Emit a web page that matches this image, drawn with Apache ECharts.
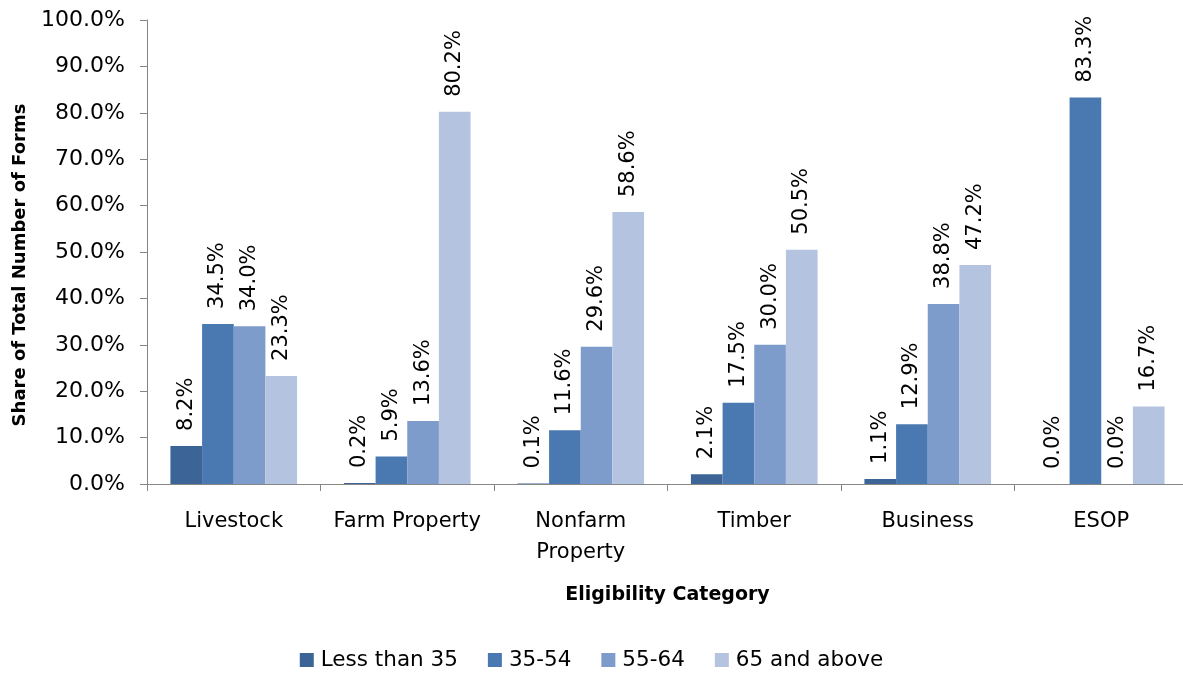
<!DOCTYPE html>
<html>
<head>
<meta charset="utf-8">
<script src="https://cdn.jsdelivr.net/npm/echarts@6/dist/echarts.min.js"></script>
<style>
  html, body { margin: 0; padding: 0; background: #fff; }
  #chart { width: 1183px; height: 679px; }
</style>
</head>
<body>
<div id="chart"></div>
<script>
const categories = ['Livestock', 'Farm Property', 'Nonfarm\nProperty', 'Timber', 'Business', 'ESOP']
const seriesNames = ['Less than 35', '35-54', '55-64', '65 and above']
const lessThan35 = [8.2, 0.2, 0.1, 2.1, 1.1, 0.0]
const age35to54 = [34.5, 5.9, 11.6, 17.5, 12.9, 83.3]
const age55to64 = [34.0, 13.6, 29.6, 30.0, 38.8, 0.0]
const age65up = [23.3, 80.2, 58.6, 50.5, 47.2, 16.7]
const colors = ['#3c6496', '#4a78b0', '#7e9ccb', '#b4c3df']

const font = '"DejaVu Sans", sans-serif'
const chart = echarts.init(document.getElementById('chart'))

const makeSeries = (name, data) => ({
  name: name,
  type: 'bar',
  data: data,
  barGap: '0%',
  barCategoryGap: '27%',
  label: {
    show: true,
    position: 'top',
    rotate: 90,
    align: 'left',
    verticalAlign: 'middle',
    distance: 15,
    color: '#000',
    fontFamily: font,
    fontSize: 21,
    formatter: p => p.value.toFixed(1) + '%'
  }
})

chart.setOption({
  animation: false,
  color: colors,
  grid: {
    left: 147,
    right: -5,
    top: 20,
    bottom: 195,
    outerBoundsMode: 'none'
  },
  legend: {
    bottom: 3,
    left: 'center',
    itemWidth: 14,
    itemHeight: 14,
    itemGap: 30,
    icon: 'rect',
    textStyle: { color: '#000', fontFamily: font, fontSize: 21.5, padding: [0, 0, 0, 2] },
    data: seriesNames
  },
  xAxis: {
    type: 'category',
    data: categories,
    name: 'Eligibility Category',
    nameLocation: 'middle',
    nameGap: 102,
    nameTextStyle: { color: '#000', fontFamily: font, fontSize: 19, fontWeight: 'bold' },
    axisLine: { lineStyle: { color: '#868686' } },
    axisTick: { show: true, length: 7, lineStyle: { color: '#868686' } },
    axisLabel: {
      color: '#000',
      fontFamily: font,
      fontSize: 21,
      margin: 22,
      lineHeight: 31,
      interval: 0
    }
  },
  yAxis: {
    type: 'value',
    min: 0,
    max: 100,
    interval: 10,
    name: 'Share of Total Number of Forms',
    nameLocation: 'middle',
    nameGap: 118,
    nameTextStyle: { color: '#000', fontFamily: font, fontSize: 18, fontWeight: 'bold', padding: [0, 26, 0, 0] },
    axisLine: { show: true, lineStyle: { color: '#868686' } },
    axisTick: { show: true, length: 7, lineStyle: { color: '#868686' } },
    splitLine: { show: false },
    axisLabel: {
      color: '#000',
      fontFamily: font,
      fontSize: 22,
      margin: 22,
      formatter: v => v.toFixed(1) + '%'
    }
  },
  series: [
    makeSeries(seriesNames[0], lessThan35),
    makeSeries(seriesNames[1], age35to54),
    makeSeries(seriesNames[2], age55to64),
    makeSeries(seriesNames[3], age65up)
  ]
})
</script>
</body>
</html>
